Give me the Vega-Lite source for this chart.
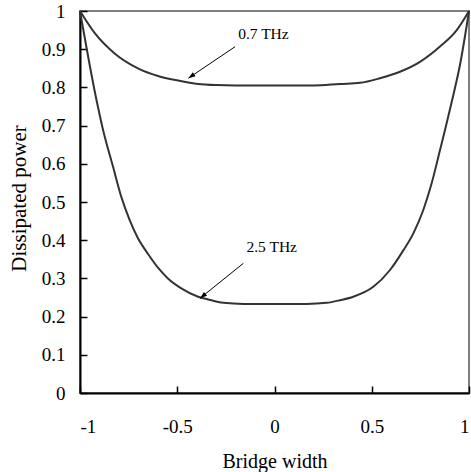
{
  "$schema": "https://vega.github.io/schema/vega-lite/v6.json",
  "width": 389,
  "height": 382,
  "autosize": "none",
  "padding": {"left": 80, "top": 11, "right": 2, "bottom": 79},
  "background": "white",
  "datasets": {
    "curves": [
      {"series": "0.7 THz", "x": -1, "y": 1.0},
      {"series": "0.7 THz", "x": -0.924, "y": 0.942},
      {"series": "0.7 THz", "x": -0.822, "y": 0.889},
      {"series": "0.7 THz", "x": -0.702, "y": 0.85},
      {"series": "0.7 THz", "x": -0.599, "y": 0.83},
      {"series": "0.7 THz", "x": -0.496, "y": 0.818},
      {"series": "0.7 THz", "x": -0.393, "y": 0.809},
      {"series": "0.7 THz", "x": -0.3, "y": 0.806},
      {"series": "0.7 THz", "x": -0.2, "y": 0.805},
      {"series": "0.7 THz", "x": 0, "y": 0.805},
      {"series": "0.7 THz", "x": 0.2, "y": 0.805},
      {"series": "0.7 THz", "x": 0.337, "y": 0.809},
      {"series": "0.7 THz", "x": 0.44, "y": 0.812},
      {"series": "0.7 THz", "x": 0.542, "y": 0.824},
      {"series": "0.7 THz", "x": 0.645, "y": 0.841},
      {"series": "0.7 THz", "x": 0.748, "y": 0.867},
      {"series": "0.7 THz", "x": 0.851, "y": 0.907},
      {"series": "0.7 THz", "x": 0.937, "y": 0.95},
      {"series": "0.7 THz", "x": 1, "y": 1.0},
      {"series": "2.5 THz", "x": -1, "y": 1.0},
      {"series": "2.5 THz", "x": -0.916, "y": 0.769},
      {"series": "2.5 THz", "x": -0.882, "y": 0.69},
      {"series": "2.5 THz", "x": -0.83, "y": 0.592},
      {"series": "2.5 THz", "x": -0.788, "y": 0.514},
      {"series": "2.5 THz", "x": -0.745, "y": 0.453},
      {"series": "2.5 THz", "x": -0.702, "y": 0.405},
      {"series": "2.5 THz", "x": -0.65, "y": 0.364},
      {"series": "2.5 THz", "x": -0.599, "y": 0.328},
      {"series": "2.5 THz", "x": -0.548, "y": 0.3},
      {"series": "2.5 THz", "x": -0.479, "y": 0.274},
      {"series": "2.5 THz", "x": -0.393, "y": 0.252},
      {"series": "2.5 THz", "x": -0.342, "y": 0.245},
      {"series": "2.5 THz", "x": -0.263, "y": 0.236},
      {"series": "2.5 THz", "x": -0.16, "y": 0.233},
      {"series": "2.5 THz", "x": 0.165, "y": 0.233},
      {"series": "2.5 THz", "x": 0.268, "y": 0.236},
      {"series": "2.5 THz", "x": 0.337, "y": 0.243},
      {"series": "2.5 THz", "x": 0.405, "y": 0.252},
      {"series": "2.5 THz", "x": 0.508, "y": 0.278},
      {"series": "2.5 THz", "x": 0.594, "y": 0.322},
      {"series": "2.5 THz", "x": 0.663, "y": 0.374},
      {"series": "2.5 THz", "x": 0.714, "y": 0.418},
      {"series": "2.5 THz", "x": 0.765, "y": 0.479},
      {"series": "2.5 THz", "x": 0.808, "y": 0.549},
      {"series": "2.5 THz", "x": 0.851, "y": 0.636},
      {"series": "2.5 THz", "x": 0.885, "y": 0.706},
      {"series": "2.5 THz", "x": 0.919, "y": 0.779},
      {"series": "2.5 THz", "x": 0.954, "y": 0.86},
      {"series": "2.5 THz", "x": 1, "y": 1.0}
    ],
    "arrows": [
      {"label": "0.7 THz", "x": -0.443, "y": 0.824, "sx": -0.203, "sy": 0.9065},
      {"label": "2.5 THz", "x": -0.383, "y": 0.248, "sx": -0.16, "sy": 0.3395}
    ],
    "labels": [
      {"label": "0.7 THz", "x": -0.057, "y": 0.928},
      {"label": "2.5 THz", "x": -0.0144, "y": 0.37}
    ]
  },
  "encoding": {
    "x": {
      "field": "x", "type": "quantitative",
      "scale": {"domain": [-1, 1], "nice": false, "zero": false},
      "axis": {
        "values": [-1, -0.5, 0, 0.5, 1],
        "labelExpr": "datum.value + ''",
        "labelOverlap": false,
        "title": "Bridge width",
        "titleFontSize": 20,
        "titleBaseline": "alphabetic",
        "titleY": 74,
        "labelBaseline": "alphabetic",
        "labelPadding": 46
      }
    },
    "y": {
      "field": "y", "type": "quantitative",
      "scale": {"domain": [0, 1], "nice": false},
      "axis": {
        "values": [0, 0.1, 0.2, 0.3, 0.4, 0.5, 0.6, 0.7, 0.8, 0.9, 1],
        "labelExpr": "datum.value + ''",
        "labelOverlap": false,
        "title": "Dissipated power",
        "titleFontSize": 21,
        "titleBaseline": "alphabetic",
        "titleX": -54.5,
        "titleY": 187,
        "labelPadding": 22
      }
    }
  },
  "layer": [
    {
      "data": {"name": "curves"},
      "mark": {"type": "line", "color": "#333333", "strokeWidth": 2, "interpolate": "monotone"},
      "encoding": {
        "detail": {"field": "series"}
      }
    },
    {
      "data": {"name": "arrows"},
      "mark": {"type": "rule", "color": "#000000", "strokeWidth": 1},
      "encoding": {
        "x2": {"field": "sx"},
        "y2": {"field": "sy"}
      }
    },
    {
      "data": {"name": "arrows"},
      "transform": [{"filter": "datum.label == '0.7 THz'"}],
      "mark": {"type": "point", "shape": "M0,0L-0.35,1L0.35,1Z", "filled": true, "color": "#000000", "opacity": 1, "size": 200, "angle": 236},
      "encoding": {}
    },
    {
      "data": {"name": "arrows"},
      "transform": [{"filter": "datum.label == '2.5 THz'"}],
      "mark": {"type": "point", "shape": "M0,0L-0.35,1L0.35,1Z", "filled": true, "color": "#000000", "opacity": 1, "size": 200, "angle": 231},
      "encoding": {}
    },
    {
      "data": {"name": "labels"},
      "mark": {"type": "text", "font": "Liberation Serif", "fontSize": 15.5, "color": "#000000", "align": "center", "baseline": "alphabetic"},
      "encoding": {
        "text": {"field": "label"}
      }
    }
  ],
  "config": {
    "view": {"stroke": "#7f7f7f", "strokeWidth": 2},
    "axis": {
      "grid": false,
      "domainColor": "#000000",
      "domainWidth": 2,
      "tickColor": "#000000",
      "tickWidth": 1.5,
      "tickSize": -7,
      "labelFont": "Liberation Serif",
      "labelFontSize": 19,
      "labelColor": "#000000",
      "titleFont": "Liberation Serif",
      "titleFontWeight": "normal",
      "titleColor": "#000000"
    }
  }
}
